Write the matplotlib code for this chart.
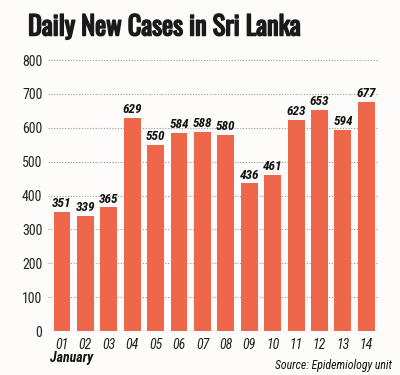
import matplotlib
matplotlib.use("Agg")
import matplotlib.pyplot as plt
import matplotlib.patheffects as pe

days = ["01", "02", "03", "04", "05", "06", "07", "08", "09", "10", "11", "12", "13", "14"]
cases = [351, 339, 365, 629, 550, 584, 588, 580, 436, 461, 623, 653, 594, 677]
yticks = [0, 100, 200, 300, 400, 500, 600, 700, 800]
title = "Daily New Cases in Sri Lanka"
month = "January"
source = "Source: Epidemiology unit"

tfont = ["Oswald", "DejaVu Sans"]
cfont = ["Roboto Condensed", "Archivo Narrow", "DejaVu Sans"]

bg = "#FDFCFA"
bar_color = "#EF674B"

fig = plt.figure(figsize=(4, 3.75), dpi=100, facecolor=bg)
ax = fig.add_axes([0.12, 0.1173, 0.825, 0.7227], facecolor=bg)

x = list(range(1, len(days) + 1))
ax.bar(x, cases, width=0.72, color=bar_color, zorder=2)
for xi, v in zip(x, cases):
    ax.text(xi, v + 5, str(v), ha="center", va="bottom", fontsize=9.5,
            fontweight="bold", fontstyle="italic", family=cfont, color="#111111")

ax.set_xlim(0.4, 14.5)
ax.set_ylim(0, 800)
ax.set_yticks(yticks)
ax.set_yticklabels([str(t) for t in yticks], family=cfont, fontsize=10, color="#222222")
ax.set_xticks(x)
ax.set_xticklabels(days, family=cfont, fontsize=10, fontstyle="italic", color="#222222")
ax.tick_params(length=0, pad=5)
ax.tick_params(axis="y", pad=4)
ax.yaxis.grid(True, linestyle=(0, (1, 1.5)), color="#999999", linewidth=0.8, zorder=0)
for s in ax.spines.values():
    s.set_visible(False)

t = fig.text(0.07, 0.928, title, ha="left", va="center", fontsize=19, fontweight="bold",
             family=tfont, color="#1a1a1a")
t.set_path_effects([pe.withStroke(linewidth=1.1, foreground="#1a1a1a")])
fig.text(0.125, 0.045, month, ha="left", va="center", fontsize=10, fontweight="bold",
         fontstyle="italic", family=cfont, color="#111111")
fig.text(0.98, 0.025, source, ha="right", va="center", fontsize=8.5, fontstyle="italic",
         family=cfont, color="#111111")

fig.savefig("out.png", dpi=100, facecolor=bg)
